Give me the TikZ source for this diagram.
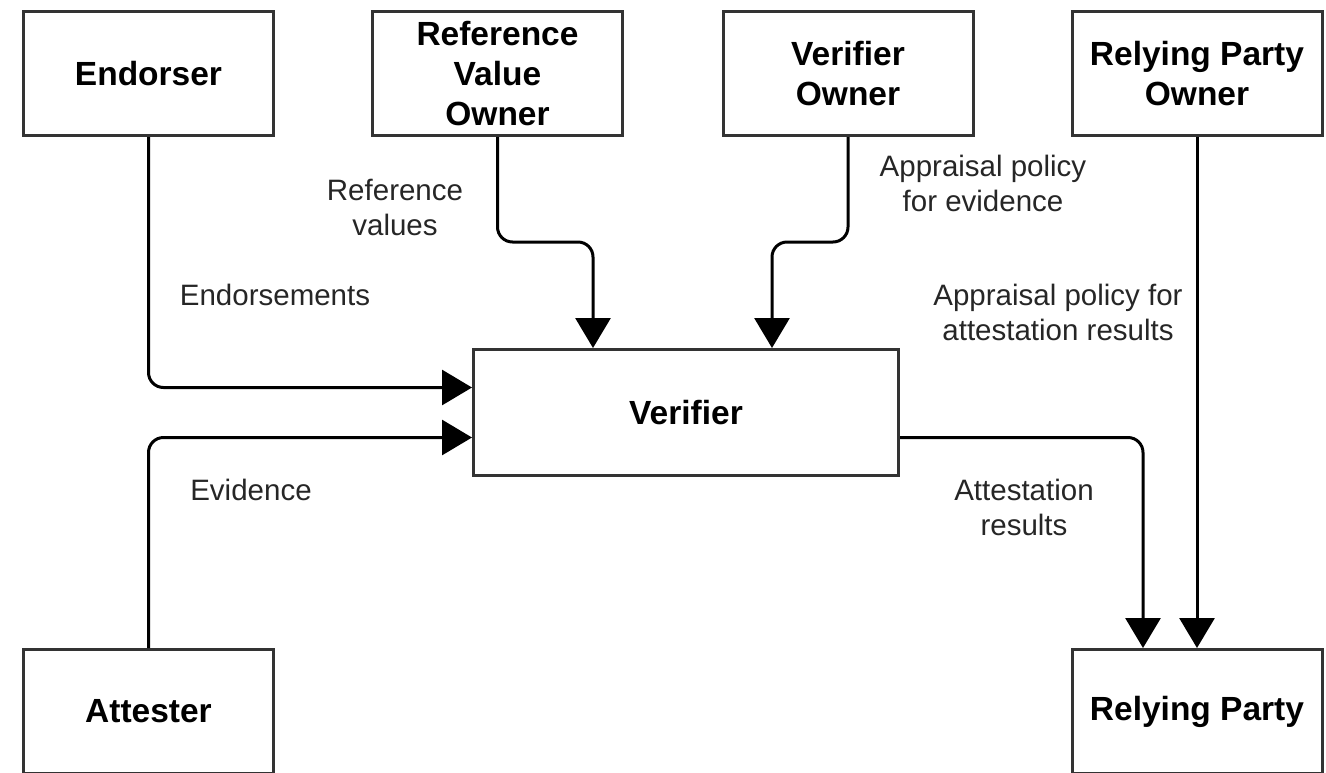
\documentclass[tikz,border=0pt]{standalone}
\usepackage{fontspec}
\setmainfont{Liberation Sans}
\usetikzlibrary{arrows.meta}

\begin{document}
\begin{tikzpicture}[x=1pt,y=-1pt,>={Triangle[width=35pt,length=30pt]},line width=3pt,
	box/.style={draw=black!80,rectangle,inner sep=2pt,minimum width=250pt,minimum height=124pt,align=center,font=\fontsize{33.5}{40}\selectfont\bfseries},
	lbl/.style={align=center,text=black!85,font=\fontsize{29.5}{35}\selectfont},
	flow/.style={->,rounded corners=15pt}]

\useasboundingbox (0,0) rectangle (1326,772);

\node[box]   (endorser)   at (148.5,73.5)    {Endorser};
\node[box]   (rvo)        at (497.5,73.5)    {Reference\\Value\\Owner};
\node[box]   (vo)         at (848,73.5)      {Verifier\\Owner};
\node[box]   (rpo)        at (1197,73.5)     {Relying Party\\Owner};
\node[box,minimum width=425pt,minimum height=126pt]   (ver)   at (686,412.5)   {Verifier};
\node[box]   (attester)   at (148.5,711.5)   {Attester};
\node[box]   (rp)         at (1197,711.5)    {Relying Party};

\node[lbl]   (lref)     at (395,207)     {Reference\\values};
\node[lbl]   (lend)     at (275,295)     {Endorsements};
\node[lbl]   (lpolev)   at (983,183)     {Appraisal policy\\for evidence};
\node[lbl]   (lpolar)   at (1058,312)    {Appraisal policy for\\attestation results};
\node[lbl]   (levid)    at (251,490)     {Evidence};
\node[lbl]   (lres)     at (1024,507)    {Attestation\\results};

\draw[flow] (endorser) |- ([yshift=25pt]ver.west);
\draw[flow] (attester) |- ([yshift=-25pt]ver.west);
\draw[flow] (rvo.south) -- ++(0,105) -| ([xshift=-93pt]ver.north);
\draw[flow] (vo.south) -- ++(0,105) -| ([xshift=86pt]ver.north);
\draw[flow] ([yshift=-25pt]ver.east) -| ([xshift=-54pt]rp.north);
\draw[->] (rpo) -- (rp);

\end{tikzpicture}
\end{document}
